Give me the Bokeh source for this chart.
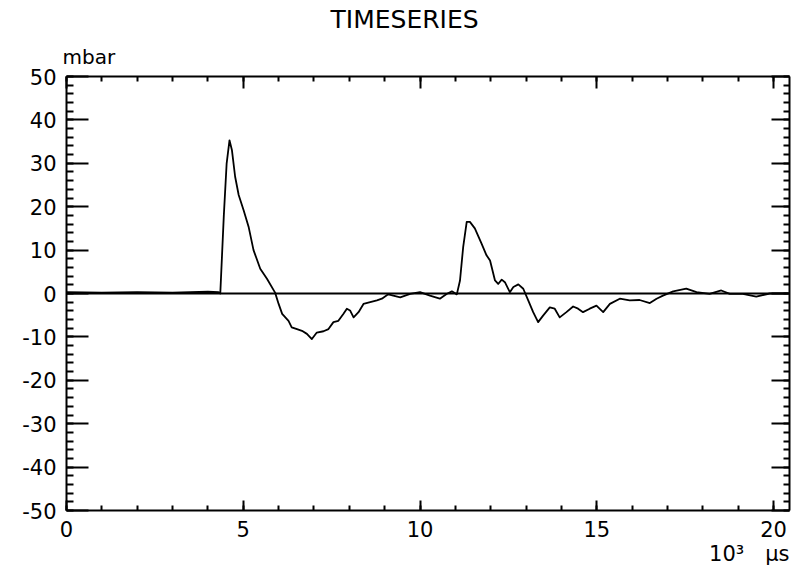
from bokeh.plotting import figure
from bokeh.models import LinearAxis, FixedTicker, Title, Span, Range1d, CustomJSTickFormatter
from bokeh.embed import file_html
from bokeh.resources import INLINE

title_text = "TIMESERIES"
y_unit = "mbar"
x_unit = "10³\u2003μs"

x_ticks = [0, 5, 10, 15, 20]
x_minor = list(range(0, 21))
y_ticks = list(range(-50, 51, 10))
y_minor = list(range(-50, 51, 2))

# time in 10^3 microseconds, pressure in mbar
time_ms = [0.0, 1.0, 2.0, 3.0, 4.0, 4.3, 4.35, 4.45, 4.53, 4.61, 4.68, 4.77, 4.87,
           5.01, 5.15, 5.29, 5.48, 5.67, 5.90, 6.00, 6.10, 6.28, 6.37, 6.52, 6.66,
           6.80, 6.94, 7.08, 7.27, 7.41, 7.55, 7.69, 7.83, 7.93, 8.02, 8.12, 8.26,
           8.40, 8.59, 8.78, 8.92, 9.10, 9.44, 9.72, 10.0, 10.28, 10.56, 10.75,
           10.90, 11.04, 11.13, 11.22, 11.32, 11.41, 11.55, 11.74, 11.88, 11.98,
           12.12, 12.21, 12.31, 12.40, 12.54, 12.64, 12.78, 12.92, 13.06, 13.20,
           13.34, 13.48, 13.67, 13.81, 13.95, 14.14, 14.33, 14.47, 14.61, 14.80,
           14.99, 15.18, 15.37, 15.65, 15.93, 16.21, 16.50, 16.69, 16.87, 17.16,
           17.53, 17.82, 18.19, 18.52, 18.76, 19.13, 19.51, 19.89, 20.4]
pressure_mbar = [0.3, 0.2, 0.3, 0.2, 0.4, 0.3, 0.0, 18.0, 30.0, 35.3, 33.0, 26.9, 22.7,
                 19.2, 15.4, 10.0, 5.7, 3.4, 0.2, -2.4, -4.7, -6.3, -7.8, -8.2, -8.6,
                 -9.3, -10.5, -9.0, -8.7, -8.2, -6.6, -6.3, -4.7, -3.5, -3.9, -5.5, -4.3,
                 -2.4, -2.0, -1.6, -1.2, -0.2, -0.9, -0.1, 0.3, -0.5, -1.2, -0.1,
                 0.5, -0.2, 3.0, 10.7, 16.5, 16.5, 15.0, 11.5, 8.8, 7.6,
                 3.0, 2.2, 3.2, 2.6, 0.3, 1.5, 2.1, 1.1, -1.6, -4.3,
                 -6.6, -5.1, -3.2, -3.5, -5.5, -4.3, -3.0, -3.5, -4.3, -3.5,
                 -2.8, -4.3, -2.4, -1.2, -1.6, -1.5, -2.2, -1.2, -0.5, 0.5,
                 1.1, 0.3, -0.1, 0.7, -0.1, -0.1, -0.7, 0.0, 0.0]

FONT = "DejaVu Sans"

p = figure(width=792, height=565, output_backend="svg", toolbar_location=None,
           x_range=Range1d(0, 20.45), y_range=Range1d(-50, 50),
           x_axis_location=None, y_axis_location=None,
           min_border_left=66, min_border_right=3, min_border_top=20, min_border_bottom=10)
p.grid.visible = False
p.outline_line_color = None
p.background_fill_color = "white"
p.border_fill_color = "white"


def make_axis(ticks, minor, tin, mtin, labelled, standoff=10):
    ax = LinearAxis(ticker=FixedTicker(ticks=ticks, minor_ticks=minor),
                    axis_line_width=2, axis_line_color="black",
                    major_tick_in=tin, major_tick_out=0,
                    minor_tick_in=mtin, minor_tick_out=0,
                    major_tick_line_width=2, minor_tick_line_width=2,
                    major_tick_line_color="black", minor_tick_line_color="black",
                    major_label_text_font=FONT, major_label_text_font_size="21px",
                    major_label_text_color="black",
                    major_label_standoff=standoff if labelled else 0)
    if labelled:
        ax.major_label_overrides = {t: str(t) for t in ticks}
    else:
        ax.formatter = CustomJSTickFormatter(code="return ''")
    return ax


p.add_layout(make_axis(y_ticks, y_minor, 22, 7, True, 10), "left")
p.add_layout(make_axis(y_ticks, y_minor, 18, 6, False), "right")
p.add_layout(make_axis(x_ticks, x_minor, 10, 5, True, 10), "below")
p.add_layout(make_axis(x_ticks, x_minor, 12, 5, False), "above")

p.add_layout(Title(text=y_unit, align="left", offset=-4, standoff=15,
                   text_font=FONT, text_font_size="20px", text_font_style="normal",
                   text_color="black"), "above")
p.add_layout(Title(text=title_text, align="left", offset=264, standoff=4,
                   text_font=FONT, text_font_size="25px", text_font_style="normal",
                   text_color="black"), "above")
p.add_layout(Title(text=x_unit, align="right", offset=0, standoff=0,
                   text_font=FONT, text_font_size="21px", text_font_style="normal",
                   text_color="black"), "below")

p.add_layout(Span(location=0, dimension="width", line_color="black", line_width=2))
p.line(time_ms, pressure_mbar, line_color="black", line_width=1.8, line_join="round")

open("out.html", "w").write(file_html(p, INLINE))
